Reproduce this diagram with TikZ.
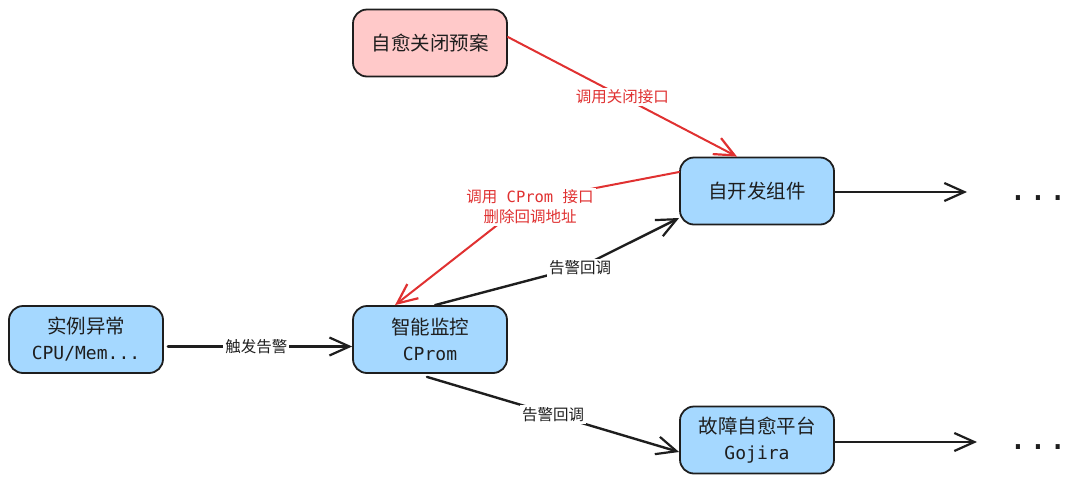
\documentclass[tikz,border=0pt]{standalone}
\usepackage{fontspec}
\setmainfont{Noto Sans CJK SC}
\newfontfamily\lat{DejaVu Sans Mono}
\usetikzlibrary{arrows.meta,calc}
\definecolor{ink}{HTML}{1E1E1E}
\definecolor{redc}{HTML}{E03131}
\definecolor{pinkf}{HTML}{FFC9C9}
\definecolor{bluef}{HTML}{A5D8FF}
\tikzset{
  box/.style={draw=ink, line width=1.8pt, rounded corners=14pt, minimum width=154pt,
    minimum height=67pt, align=center, inner sep=0pt, text=ink,
    font=\fontsize{19.5}{26}\selectfont},
  pinkbox/.style={box, fill=pinkf},
  bluebox/.style={box, fill=bluef},
  conn/.style={draw=ink, line width=2.4pt, line cap=round, line join=round,
    -{Straight Barb[length=20pt,width=18pt,line width=2.2pt]}},
  redconn/.style={conn, draw=redc, line width=2pt},
  lbl/.style={fill=white, inner sep=2pt, align=center, text=ink,
    font=\fontsize{15.5}{20}\selectfont},
  redlbl/.style={lbl, text=redc},
  dotstext/.style={font=\lat\fontsize{33}{33}\selectfont, text=ink, anchor=base, inner sep=0pt},
  sub/.style={}
}
\begin{document}
\begin{tikzpicture}[x=1pt,y=-1pt]
\useasboundingbox (0,0) rectangle (1077,483);
% nodes
\node[pinkbox] (yu) at (430,43) {自愈关闭预案};
\node[bluebox] (kf) at (757,191) {自开发组件};
\node[bluebox] (sl) at (86,339.5) {实例异常\\{\lat\fontsize{18}{26}\selectfont CPU/Mem...}};
\node[bluebox] (cp) at (430,339.5) {智能监控\\{\lat\fontsize{18}{26}\selectfont CProm}};
\node[bluebox] (gj) at (757,440) {故障自愈平台\\{\lat\fontsize{18}{26}\selectfont Gojira}};
% free ends
\coordinate (e1) at (967,192);
\coordinate (e2) at (977,442);
\coordinate (m2) at (528,201);
\coordinate (m3) at (583,266);
% connectors
\draw[redconn] ([yshift=6pt]yu.east) -- node[redlbl, pos=0.5] (l1) {调用关闭接口} ([xshift=-20pt]kf.north);
\draw[redconn] ([yshift=19pt]kf.west) -- (m2) -- ([xshift=-35pt]cp.north);
\node[redlbl] (l2) at (530,207) {调用{\lat\ CProm\ }接口\\删除回调地址};
\draw[conn] ([xshift=5pt]cp.north) -- (m3) -- ([yshift=-27pt]kf.west);
\node[lbl] (l3) at (580,268) {告警回调};
\draw[conn] ([xshift=4pt,yshift=-7pt]sl.east) -- node[lbl, pos=0.48] (l4) {触发告警} ([yshift=-7pt]cp.west);
\draw[conn] ([xshift=-3pt,yshift=-3pt]cp.south) -- node[lbl, pos=0.5] (l5) {告警回调} ([yshift=-12pt]gj.west);
\draw[conn] ([yshift=-1pt]kf.east) -- (e1);
\draw[conn] ([yshift=-2pt]gj.east) -- (e2);
% dots
\node[dotstext] (d1) at (1038,200) {...};
\node[dotstext] (d2) at (1038,449) {...};
\end{tikzpicture}
\end{document}
